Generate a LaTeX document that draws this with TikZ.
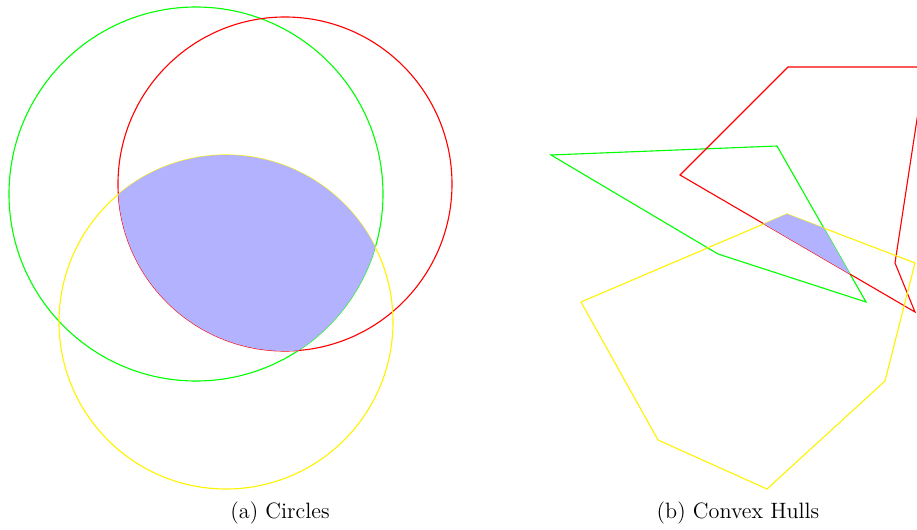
\documentclass[tikz,border=0pt]{standalone}
\begin{document}
\begin{tikzpicture}[
    x=0.019cm, y=-0.019cm,
    contorno/.style={line width=0.6pt},
    zona/.style={fill=blue!30},
    didascalia/.style={font=\large}]

  \useasboundingbox (0,0) rectangle (917,530);

  % circles
  \draw[contorno,green] (196,194) circle (187);
  \draw[contorno,red]   (285,184) circle (167);
  \draw[contorno,yellow](226,322) circle (167);

  \begin{scope}
    \clip (196,194) circle (187);
    \clip (285,184) circle (167);
    \fill[zona] (226,322) circle (167);
  \end{scope}

  % convex hulls
  \draw[contorno,green]  (551,155) -- (777,146) -- (866,302) -- (718,254) -- cycle;
  \draw[contorno,red]    (680,175) -- (788,67) -- (925,67) -- (895,263) -- (915,312) -- cycle;
  \draw[contorno,yellow] (787,214) -- (915,263) -- (885,381) -- (767,489)
                         -- (658,440) -- (581,302) -- cycle;

  \begin{scope}
    \clip (551,155) -- (777,146) -- (866,302) -- (718,254) -- cycle;
    \clip (680,175) -- (788,67) -- (925,67) -- (895,263) -- (915,312) -- cycle;
    \fill[zona] (787,214) -- (915,263) -- (885,381) -- (767,489)
                -- (658,440) -- (581,302) -- cycle;
  \end{scope}

  \node[didascalia] (capa) at (280,513) {(a) Circles};
  \node[didascalia] (capb) at (738,513) {(b) Convex Hulls};

\end{tikzpicture}
\end{document}
